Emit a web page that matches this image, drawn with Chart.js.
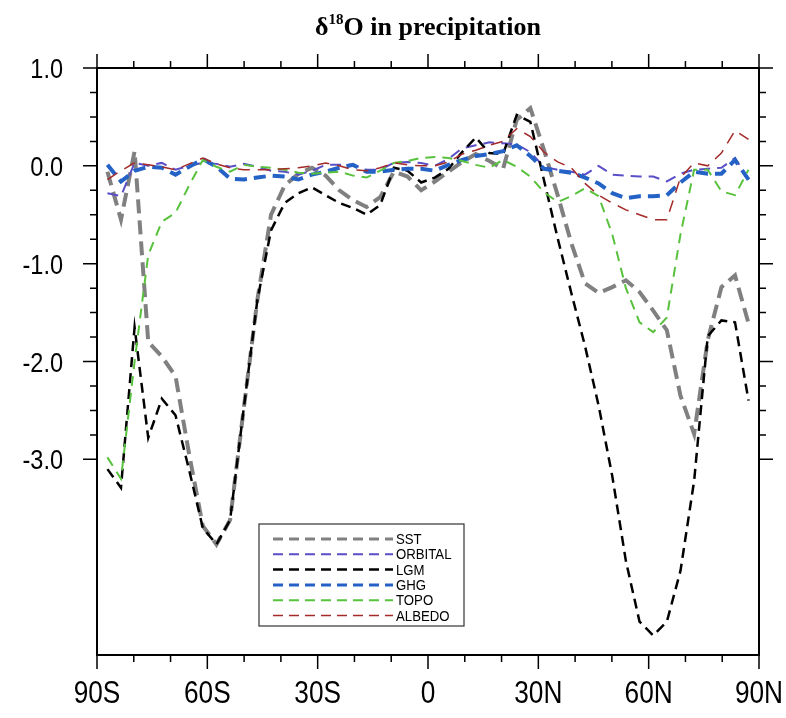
<!DOCTYPE html>
<html>
<head>
<meta charset="utf-8">
<script src="https://cdn.jsdelivr.net/npm/chart.js@4.4.1/dist/chart.umd.min.js"></script>
<style>
  html, body { margin: 0; padding: 0; background: #fff; }
  #chart { display: block; }
</style>
</head>
<body>
<canvas id="chart" width="786" height="718"></canvas>
<script>
// Gaussian latitudes of the model grid (deg, S negative)
const lats = [-87.16, -83.48, -79.78, -76.07, -72.36, -68.65, -64.94, -61.23, -57.52, -53.81,
  -50.10, -46.39, -42.68, -38.97, -35.26, -31.55, -27.83, -24.12, -20.41, -16.70,
  -12.99, -9.28, -5.57, -1.86, 1.86, 5.57, 9.28, 12.99, 16.70, 20.41,
  24.12, 27.83, 31.55, 35.26, 38.97, 42.68, 46.39, 50.10, 53.81, 57.52,
  61.23, 64.94, 68.65, 72.36, 76.07, 79.78, 83.48, 87.16];

// zonal mean d18O anomalies (permil)
const sst = [-0.06, -0.55, 0.15, -1.80, -1.95, -2.15, -2.95, -3.68, -3.87, -3.62,
  -2.48, -1.37, -0.50, -0.20, -0.08, -0.02, -0.10, -0.25, -0.35, -0.42,
  -0.32, -0.06, -0.11, -0.25, -0.16, -0.06, 0.04, 0.12, 0.05, -0.03,
  0.47, 0.59, 0.16, -0.30, -0.79, -1.20, -1.30, -1.24, -1.17, -1.29,
  -1.48, -1.68, -2.35, -2.74, -1.78, -1.24, -1.12, -1.61];
const orbital = [-0.28, -0.31, 0.03, 0.00, 0.03, -0.04, 0.00, 0.03, 0.02, -0.01,
  0.02, -0.01, -0.05, -0.06, -0.09, -0.05, 0.01, 0.01, 0.01, -0.04,
  -0.04, 0.03, 0.04, 0.03, 0.00, 0.07, 0.18, 0.21, 0.24, 0.23,
  0.22, 0.14, -0.01, -0.04, -0.06, -0.09, 0.00, -0.09, -0.10, -0.11,
  -0.11, -0.16, -0.08, -0.04, -0.03, -0.02, 0.08, -0.14];
const lgm = [-3.10, -3.29, -1.65, -2.78, -2.38, -2.55, -3.11, -3.70, -3.87, -3.62,
  -2.48, -1.37, -0.66, -0.38, -0.28, -0.22, -0.30, -0.38, -0.43, -0.50,
  -0.40, -0.02, -0.05, -0.17, -0.12, -0.03, 0.14, 0.29, 0.13, 0.12,
  0.52, 0.45, -0.15, -0.74, -1.30, -1.84, -2.45, -3.17, -4.04, -4.66,
  -4.80, -4.66, -4.14, -3.22, -1.74, -1.58, -1.60, -2.40];
const ghg = [0.01, -0.16, -0.05, -0.01, -0.02, -0.09, -0.01, 0.07, -0.01, -0.13,
  -0.14, -0.12, -0.10, -0.11, -0.14, -0.09, -0.06, -0.02, 0.01, -0.06,
  -0.06, -0.04, -0.03, -0.03, -0.05, 0.01, 0.06, 0.10, 0.12, 0.15,
  0.21, 0.10, -0.03, -0.05, -0.07, -0.12, -0.18, -0.28, -0.33, -0.31,
  -0.31, -0.30, -0.17, -0.06, -0.08, -0.08, 0.06, -0.14];
const topo = [-2.98, -3.20, -2.00, -0.91, -0.57, -0.48, -0.20, 0.06, -0.01, -0.06,
  0.01, -0.01, -0.02, -0.04, -0.07, -0.08, -0.07, -0.06, -0.10, -0.12,
  -0.05, 0.03, 0.05, 0.08, 0.09, 0.08, 0.05, 0.01, -0.02, 0.06,
  -0.01, -0.11, -0.27, -0.37, -0.31, -0.23, -0.31, -0.70, -1.25, -1.60,
  -1.70, -1.55, -0.70, -0.04, -0.04, -0.26, -0.30, -0.04];
const albedo = [-0.14, -0.05, 0.03, 0.01, -0.01, -0.04, 0.02, 0.08, 0.02, -0.02,
  -0.04, -0.04, -0.04, -0.03, -0.02, 0.00, 0.03, 0.00, -0.04, -0.05,
  -0.02, 0.03, 0.01, 0.00, 0.00, 0.04, 0.12, 0.16, 0.21, 0.25,
  0.38, 0.30, 0.14, 0.04, -0.02, -0.18, -0.30, -0.38, -0.45, -0.50,
  -0.55, -0.55, -0.12, 0.03, 0.00, 0.13, 0.36, 0.27];

const xTicks = [-90, -60, -30, 0, 30, 60, 90];
const xTickLabels = ['90S', '60S', '30S', '0', '30N', '60N', '90N'];
const yTicks = [1, 0, -1, -2, -3];
const yTickLabels = ['1.0', '0.0', '-1.0', '-2.0', '-3.0'];

const series = [
  { name: 'SST',     data: sst,     color: '#808080', width: 4,   dash: [14, 7] },
  { name: 'ORBITAL', data: orbital, color: '#5a4fc6', width: 2,   dash: [11, 7] },
  { name: 'LGM',     data: lgm,     color: '#000000', width: 2.5, dash: [10, 6] },
  { name: 'GHG',     data: ghg,     color: '#2462c6', width: 4,   dash: [12, 7] },
  { name: 'TOPO',    data: topo,    color: '#58c23c', width: 2,   dash: [10, 7] },
  { name: 'ALBEDO',  data: albedo,  color: '#a52a2a', width: 1.5, dash: [12, 8] }
];

const sans = "'Liberation Sans', Arial, Helvetica, sans-serif";

// narrow (condensed) text helper
function narrowText(ctx, text, x, y, sx, align) {
  ctx.save();
  ctx.translate(x, y);
  ctx.scale(sx, 1);
  ctx.textAlign = align;
  ctx.fillText(text, 0, 0);
  ctx.restore();
}

// frame, outward tick marks, tick labels, title and legend
const framePlugin = {
  id: 'frame',
  afterDatasetsDraw(chart) {
    const { ctx, chartArea: a, scales } = chart;
    const xs = scales.x, ys = scales.y;
    ctx.save();
    ctx.strokeStyle = '#000';
    ctx.lineWidth = 2;
    ctx.setLineDash([]);
    ctx.strokeRect(a.left, a.top, a.right - a.left, a.bottom - a.top);
    ctx.lineWidth = 1.5;
    ctx.beginPath();
    for (let v = -90; v <= 90; v += 10) {
      const px = xs.getPixelForValue(v);
      const len = v % 30 === 0 ? 14 : 7;
      ctx.moveTo(px, a.bottom); ctx.lineTo(px, a.bottom + len);
      ctx.moveTo(px, a.top); ctx.lineTo(px, a.top - len);
    }
    for (let v = -3; v <= 1.001; v += 0.25) {
      const py = ys.getPixelForValue(v);
      const len = Math.abs(v - Math.round(v)) < 1e-6 ? 14 : 7;
      ctx.moveTo(a.left, py); ctx.lineTo(a.left - len, py);
      ctx.moveTo(a.right, py); ctx.lineTo(a.right + len, py);
    }
    ctx.stroke();

    // tick labels
    ctx.fillStyle = '#000';
    ctx.textBaseline = 'alphabetic';
    ctx.font = '32px ' + sans;
    xTicks.forEach((v, i) => {
      narrowText(ctx, xTickLabels[i], xs.getPixelForValue(v), a.bottom + 48, 0.82, 'center');
    });
    ctx.font = '28px ' + sans;
    yTicks.forEach((v, i) => {
      narrowText(ctx, yTickLabels[i], 63, ys.getPixelForValue(v) + 10, 0.84, 'right');
    });
    ctx.restore();
  },
  afterDraw(chart) {
    const { ctx } = chart;
    ctx.save();
    // title: delta 18 O in precipitation
    const serif = "'Liberation Serif', 'Times New Roman', serif";
    const big = 'bold 26px ' + serif, small = 'bold 15px ' + serif;
    ctx.fillStyle = '#000';
    ctx.textBaseline = 'alphabetic';
    ctx.textAlign = 'left';
    ctx.font = big;
    const wD = ctx.measureText('\u03b4').width;
    const wRest = ctx.measureText('O in precipitation').width;
    ctx.font = small;
    const wSup = ctx.measureText('18').width;
    const total = wD + wSup + wRest;
    let x = 428 - total / 2;
    const base = 35;
    ctx.font = big; ctx.fillText('\u03b4', x, base); x += wD;
    ctx.font = small; ctx.fillText('18', x, base - 11); x += wSup;
    ctx.font = big; ctx.fillText('O in precipitation', x, base);

    // legend box
    const bx = 259, by = 524, bw = 205, bh = 102;
    ctx.lineWidth = 1.2;
    ctx.strokeStyle = '#333';
    ctx.strokeRect(bx, by, bw, bh);
    ctx.font = '15px ' + sans;
    ctx.textBaseline = 'middle';
    series.forEach((s, i) => {
      const ly = 539 + i * 15.3;
      ctx.strokeStyle = s.color;
      ctx.lineWidth = Math.min(s.width, 3);
      ctx.setLineDash([10, 6]);
      ctx.beginPath();
      ctx.moveTo(273, ly); ctx.lineTo(393, ly);
      ctx.stroke();
      ctx.setLineDash([]);
      ctx.fillStyle = '#000';
      narrowText(ctx, s.name, 396, ly + 1, 0.88, 'left');
    });
    ctx.restore();
  }
};

new Chart(document.getElementById('chart'), {
  type: 'line',
  data: {
    datasets: series.map((s, i) => ({
      label: s.name,
      data: lats.map((lat, k) => ({ x: lat, y: s.data[k] })),
      borderColor: s.color,
      borderWidth: s.width,
      borderDash: s.dash,
      borderCapStyle: 'butt',
      pointRadius: 0,
      tension: 0,
      fill: false,
      order: series.length - i
    }))
  },
  options: {
    responsive: false,
    animation: false,
    layout: { padding: { top: 68, right: 27, left: 0, bottom: 0 } },
    plugins: {
      legend: { display: false },
      title: { display: false },
      tooltip: { enabled: false }
    },
    scales: {
      x: {
        type: 'linear',
        min: -90,
        max: 90,
        afterBuildTicks: (axis) => { axis.ticks = xTicks.map(v => ({ value: v })); },
        afterFit: (axis) => { axis.height = 63; axis.paddingLeft = 0; axis.paddingRight = 0; },
        grid: { display: false, drawTicks: false },
        border: { display: false },
        ticks: { display: false }
      },
      y: {
        min: -5,
        max: 1,
        afterBuildTicks: (axis) => { axis.ticks = yTicks.map(v => ({ value: v })); },
        afterFit: (axis) => { axis.width = 97; axis.paddingTop = 0; axis.paddingBottom = 0; },
        grid: { display: false, drawTicks: false },
        border: { display: false },
        ticks: { display: false }
      }
    }
  },
  plugins: [framePlugin]
});
</script>
</body>
</html>
